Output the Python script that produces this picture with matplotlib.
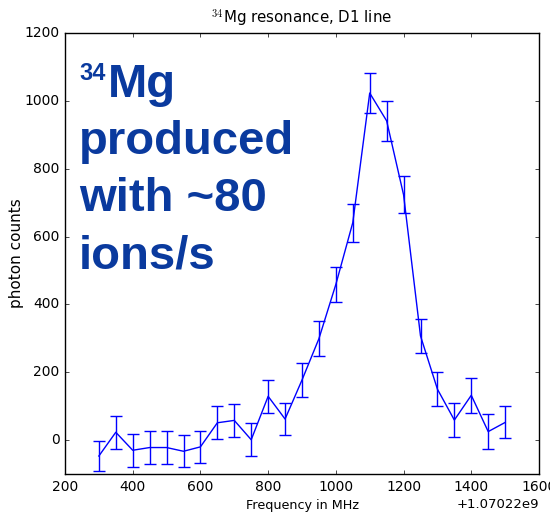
import numpy as np
import matplotlib
matplotlib.use("Agg")
import matplotlib.pyplot as plt
from matplotlib.ticker import ScalarFormatter


# -----------------------------
# data
# -----------------------------
offset = 1.07022e9
freq = [300, 350, 400, 450, 500, 550, 600, 650, 700, 750, 800, 850, 900,
        950, 1000, 1050, 1100, 1150, 1200, 1250, 1300, 1350, 1400, 1450, 1500]
counts = [-47, 23, -30, -22, -22, -33, -20, 51, 58, 1, 129, 62, 177,
          299, 459, 641, 1023, 941, 723, 307, 150, 59, 132, 25, 52]
errors = [45, 48, 48, 49, 49, 47, 48, 49, 49, 48, 49, 48, 50,
          52, 52, 56, 58, 58, 54, 49, 50, 49, 51, 52, 47]

title = r"$^{34}$Mg resonance, D1 line"
xlabel = "Frequency in MHz"
ylabel = "photon counts"
note_sup = "34"
note_lines = ["Mg", "produced", "with ~80", "ions/s"]


# -----------------------------
# style: old matplotlib "classic" look, white background
# -----------------------------
plt.style.use("classic")
plt.rcParams.update({
    "figure.facecolor": "white",
    "savefig.facecolor": "white",
    "font.family": "DejaVu Sans",
    "font.size": 10,
    "axes.titlesize": 10.8,
    "xtick.major.size": 3,
    "ytick.major.size": 3,
    "xtick.minor.size": 0,
    "ytick.minor.size": 0,
})

fig = plt.figure(figsize=(5.5, 5.15), dpi=100)
ax = fig.add_axes([65/550, 1 - 474/515, 474/550, 441/515])

x = np.array(freq) + offset
ax.errorbar(x, counts, yerr=errors, color="b", ecolor="b", lw=1.0,
            elinewidth=1.0, capsize=4, capthick=1.0)

ax.set_xlim(offset + 200, offset + 1600)
ax.set_ylim(-100, 1200)
ax.set_xticks(offset + np.arange(200, 1601, 200))
ax.set_yticks(np.arange(0, 1201, 200))
fmt = ScalarFormatter(useOffset=offset)
ax.xaxis.set_major_formatter(fmt)
ax.xaxis.get_offset_text().set_fontsize(9.5)

ax.set_title(title, y=1.005)
ax.set_xlabel(xlabel, fontsize=9.2, labelpad=4)
ax.set_ylabel(ylabel, fontsize=11, labelpad=0)

# big annotation in the upper left
col = "#0a3a9e"
fig.text(79/550, 1 - 80/515, note_sup, fontsize=17, fontweight="bold",
         family="Liberation Sans", color=col, va="baseline", ha="left")
fig.text(108/550, 1 - 96.7/515, note_lines[0], fontsize=34, fontweight="bold",
         family="Liberation Sans", color=col, va="baseline", ha="left")
for i, line in enumerate(note_lines[1:]):
    fig.text(79/550, 1 - (153.5 + 57.5*i)/515, line, fontsize=34,
             fontweight="bold", family="Liberation Sans", color=col,
             va="baseline", ha="left")

fig.savefig("out.png", dpi=100)
